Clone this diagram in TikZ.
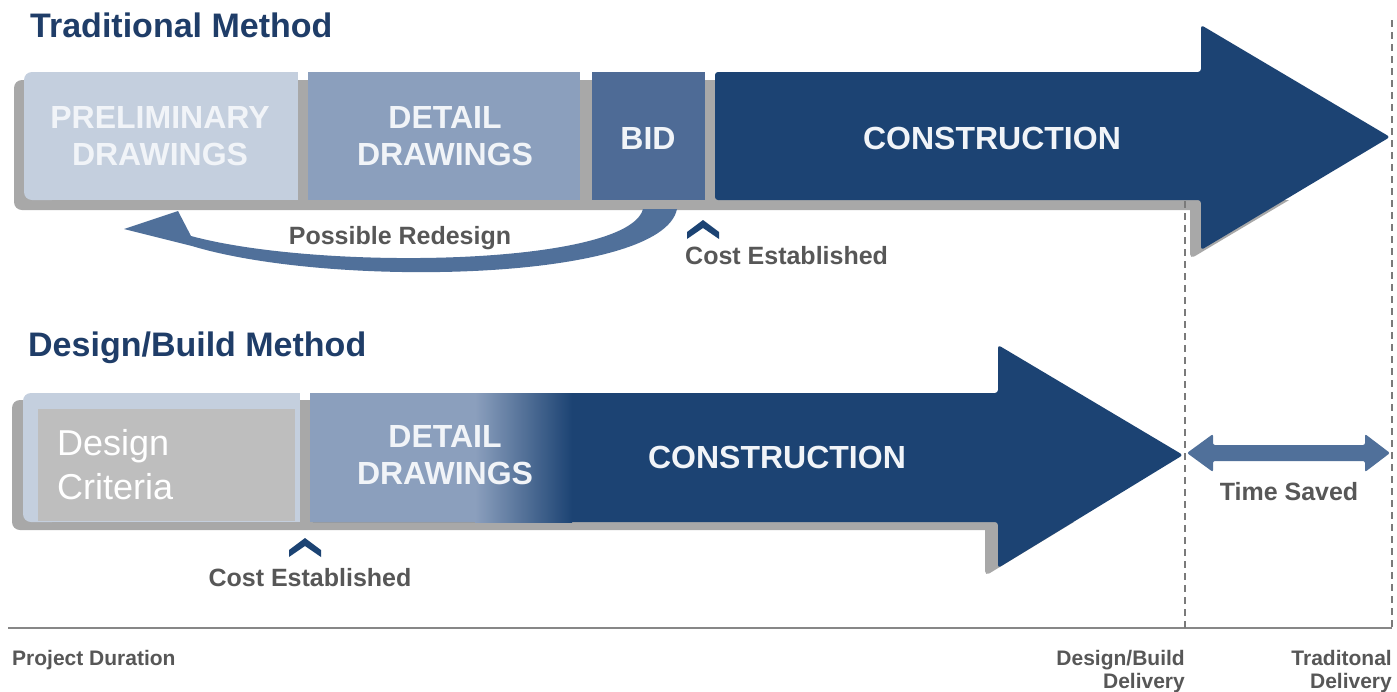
\documentclass[tikz,border=0pt]{standalone}
\usepackage{fontspec}
\setmainfont{Liberation Sans}
\definecolor{navy}{HTML}{1C4373}
\definecolor{titlenavy}{HTML}{1F3D68}
\definecolor{bidc}{HTML}{4E6B96}
\definecolor{detailc}{HTML}{8B9FBD}
\definecolor{prelimc}{HTML}{C4CFDE}
\definecolor{shadowc}{HTML}{A8A8A8}
\definecolor{boxgray}{HTML}{BEBEBE}
\definecolor{notegray}{HTML}{575757}
\definecolor{barwhite}{HTML}{F1F4F8}
\definecolor{redesignc}{HTML}{50709A}
\definecolor{dashc}{HTML}{7A7A7A}
\begin{document}
\begin{tikzpicture}[x=1pt,y=-1pt,
  barlabel/.style={font=\bfseries\fontsize{32}{37}\selectfont, text=barwhite, align=center, inner sep=0},
  titletext/.style={font=\bfseries\fontsize{34}{40}\selectfont, text=titlenavy, inner sep=0, anchor=base west},
  note/.style={font=\bfseries\fontsize{25}{30}\selectfont, text=notegray, inner sep=0},
  axislabel/.style={font=\bfseries\fontsize{21}{23}\selectfont, text=notegray, inner sep=0, align=right},
  dashline/.style={draw=dashc, line width=1.6pt, dash pattern=on 7pt off 5pt},
  chev/.style={fill=navy}]
\useasboundingbox (0,0) rectangle (1397,691);
\fill[white] (0,0) rectangle (1397,691);

% delivery markers and axis
\coordinate (dbd) at (1185,628);
\coordinate (trd) at (1392,628);
\draw[dashline] (1392,20) -- (trd);
\draw[draw=dashc!90, line width=2.5pt] (8,628) -- (trd);

% ---------- Traditional method ----------
\node[titletext] (t1) at (30,37) {Traditional Method};
% shadow
\fill[shadowc, rounded corners=8] (14,80) rectangle (1205,210);
\begin{scope}
\clip (0,200) rectangle (1397,300);
\fill[shadowc, rounded corners=5] (1190,34) -- (1380,146) -- (1190,259) -- cycle;
\end{scope}
\draw[dashline] (1185,201) -- (dbd);
% segments
\fill[prelimc, rounded corners=8] (24,72) rectangle (60,200);
\fill[prelimc] (40,72) rectangle (298,200);
\fill[detailc] (308,72) rectangle (580,200);
\fill[bidc] (592,72) rectangle (705,200);
\fill[navy, rounded corners=3] (715,72) -- (1201,72) -- (1201,25) -- (1390,137) -- (1201,250) -- (1201,200) -- (715,200) -- cycle;
\node[barlabel] (pre) at (160,136.5) {PRELIMINARY\\DRAWINGS};
\node[barlabel] (det1) at (445,136.5) {DETAIL\\DRAWINGS};
\node[barlabel] (bid) at (648,138) {BID};
\node[barlabel] (con1) at (992,138) {CONSTRUCTION};

% possible redesign arrow
\fill[redesignc] (677,209) .. controls (662,282) and (330,288) .. (192,246)
  -- (124,229) -- (178,211) -- (191,236)
  .. controls (320,271) and (628,266) .. (643,209) -- cycle;
\node[note] (redes) at (400,238) {Possible Redesign};

% cost established (traditional)
\fill[chev, shift={(703,230)}] (-16,2) -- (0,-10) -- (16,2) -- (16,9) -- (0,-2) -- (-16,9) -- cycle;
\node[note, anchor=west] (cost1) at (685,256) {Cost Established};

% ---------- Design/Build method ----------
\node[titletext] (t2) at (28,356) {Design/Build Method};
\fill[shadowc, rounded corners=8] (12,400) rectangle (1003,530);
\begin{scope}
\clip (0,522) rectangle (1397,620);
\fill[shadowc, rounded corners=5] (985,353) -- (1171,463) -- (985,576) -- cycle;
\end{scope}
\fill[prelimc, rounded corners=8] (23,393) rectangle (60,522);
\fill[prelimc] (40,393) rectangle (300,522);
\fill[boxgray] (38,409) rectangle (295,521);
\fill[navy, rounded corners=3] (310,393) -- (998,393) -- (998,345) -- (1183,455) -- (998,568) -- (998,522) -- (310,522) -- cycle;
\fill[detailc] (310,393) rectangle (476,522);
\shade[left color=detailc, right color=navy] (475,393) rectangle (572,522);
\node[font=\fontsize{36}{44}\selectfont, text=white, align=left, inner sep=0, anchor=west] (crit) at (57,465) {Design\\Criteria};
\node[barlabel] (det2) at (445,455.5) {DETAIL\\DRAWINGS};
\node[barlabel] (con2) at (777,457) {CONSTRUCTION};

% cost established (design/build)
\fill[chev, shift={(305,548)}] (-16,2) -- (0,-10) -- (16,2) -- (16,9) -- (0,-2) -- (-16,9) -- cycle;
\node[note] (cost2) at (310,578) {Cost Established};

% time saved
\fill[redesignc, rounded corners=2] (1187,453) -- (1213,434) -- (1213,445) -- (1365,445) -- (1365,434) -- (1390,453) -- (1365,472) -- (1365,461) -- (1213,461) -- (1213,472) -- cycle;
\node[note] (saved) at (1289,492) {Time Saved};

% axis labels
\node[axislabel, anchor=base west] (dur) at (12,665) {Project Duration};
\node[axislabel, anchor=north east] (dbdl) at (1185,650) {Design/Build\\Delivery};
\node[axislabel, anchor=north east] (trdl) at (1392,650) {Traditonal\\Delivery};
\end{tikzpicture}
\end{document}
